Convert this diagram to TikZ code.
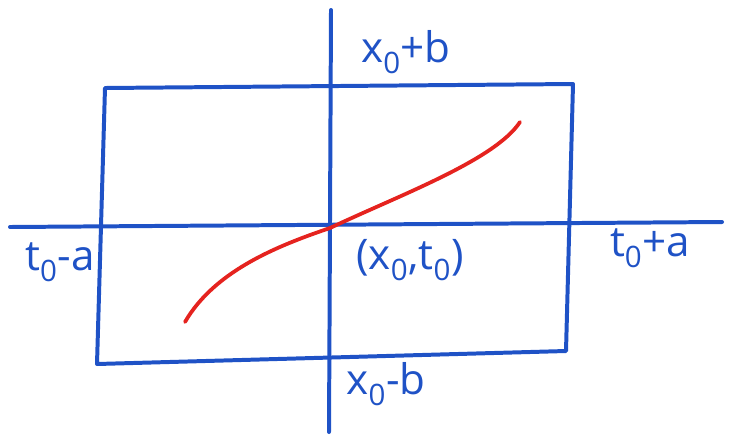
\documentclass[tikz,border=0pt]{standalone}
\usepackage{fontspec}
\setmainfont{Open Sans}
\definecolor{pen}{HTML}{1F52C6}
\definecolor{redpen}{HTML}{E5231F}
\usetikzlibrary{positioning}

\begin{document}
\begin{tikzpicture}[x=0.03cm, y=-0.03cm,
    pen/.style={draw=pen, line width=3.4pt, line cap=round, line join=round},
    lbl/.style={text=pen, font=\fontsize{36}{40}\selectfont, inner sep=0pt}]
  \useasboundingbox (0,0) rectangle (739,439);
  % axes
  \coordinate (top) at (331,10);
  \coordinate (bot) at (329,432);
  \coordinate (left) at (10,227);
  \coordinate (right) at (722,222);
  \coordinate (o) at (330,228);
  \draw[pen] (top) -- (bot);
  \draw[pen] (left) -- (right);
  % box
  \coordinate (tl) at (105,88);
  \coordinate (tr) at (573,84);
  \coordinate (br) at (566,351);
  \coordinate (bl) at (97,364);
  \draw[pen] (tl) -- (tr) -- (br) -- (bl) -- cycle;
  % solution curve
  \coordinate (s) at (185,322);
  \coordinate (e) at (520,122);
  \draw[draw=redpen, line width=3.2pt, line cap=round]
    (s) .. controls (215,270) and (280,245) .. (o)
        .. controls (400,195) and (495,160) .. (e);
  % labels
  \node[lbl] (xb) at (406,52) {x\textsubscript{0}+b};
  \node[lbl] (xmb) at (386,384) {x\textsubscript{0}-b};
  \node[lbl] (ot) at (410,260) {(x\textsubscript{0},t\textsubscript{0})};
  \node[lbl] (ta) at (60,262) {t\textsubscript{0}-a};
  \node[lbl] (tpa) at (650,248) {t\textsubscript{0}+a};
\end{tikzpicture}
\end{document}
